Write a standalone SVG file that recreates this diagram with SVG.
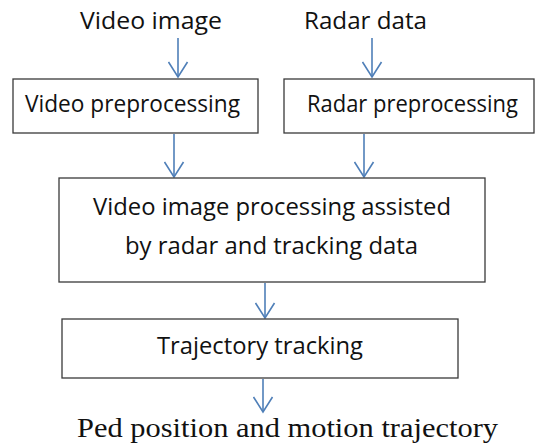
<svg xmlns="http://www.w3.org/2000/svg" width="535" height="448" viewBox="0 0 535 448">
<style>
.box{fill:#fff;stroke:#3a3a3a;stroke-width:1.3}
.t{font-family:"Open Sans","Liberation Sans",sans-serif;font-size:23px;fill:#111;text-anchor:middle}
.s{font-family:"Liberation Serif","Times New Roman",serif;font-size:28px;fill:#111;text-anchor:middle}
.c{stroke:#4f7fb8;stroke-width:1.6;fill:none}
</style>
<defs>
<marker id="ah" markerUnits="userSpaceOnUse" markerWidth="24" markerHeight="20" refX="10" refY="17" viewBox="0 0 24 20">
<path d="M0.5,2 L10,17 L19.5,2" fill="none" stroke="#4f7fb8" stroke-width="1.6"/>
</marker>
</defs>
<rect width="535" height="448" fill="#fff"/>
<g id="connectors">
<line class="c" x1="178" y1="38" x2="178" y2="77" marker-end="url(#ah)"/>
<line class="c" x1="372" y1="38" x2="372" y2="77" marker-end="url(#ah)"/>
<line class="c" x1="174" y1="134" x2="174" y2="177" marker-end="url(#ah)"/>
<line class="c" x1="364" y1="134" x2="364" y2="177" marker-end="url(#ah)"/>
<line class="c" x1="265" y1="283" x2="265" y2="318" marker-end="url(#ah)"/>
<line class="c" x1="263" y1="379" x2="263" y2="412" marker-end="url(#ah)"/>
</g>
<g id="video-image"><text class="t" x="151" y="29" textLength="142" lengthAdjust="spacingAndGlyphs">Video image</text></g>
<g id="radar-data"><text class="t" x="365.5" y="29" textLength="123" lengthAdjust="spacingAndGlyphs">Radar data</text></g>
<g id="video-preprocessing"><rect class="box" x="13" y="79" width="245" height="54"/><text class="t" x="132.5" y="112" textLength="215" lengthAdjust="spacingAndGlyphs">Video preprocessing</text></g>
<g id="radar-preprocessing"><rect class="box" x="284" y="79" width="250" height="54"/><text class="t" x="412.5" y="112" textLength="211" lengthAdjust="spacingAndGlyphs">Radar preprocessing</text></g>
<g id="fusion"><rect class="box" x="59" y="178" width="426" height="104"/><text class="t" x="272" y="215" textLength="358" lengthAdjust="spacingAndGlyphs">Video image processing assisted</text><text class="t" x="271.5" y="254" textLength="293" lengthAdjust="spacingAndGlyphs">by radar and tracking data</text></g>
<g id="trajectory-tracking"><rect class="box" x="62" y="319" width="396" height="59"/><text class="t" x="260" y="354" textLength="206" lengthAdjust="spacingAndGlyphs">Trajectory tracking</text></g>
<g id="output"><text class="s" x="287.5" y="437" textLength="421" lengthAdjust="spacingAndGlyphs">Ped position and motion trajectory</text></g>
</svg>
